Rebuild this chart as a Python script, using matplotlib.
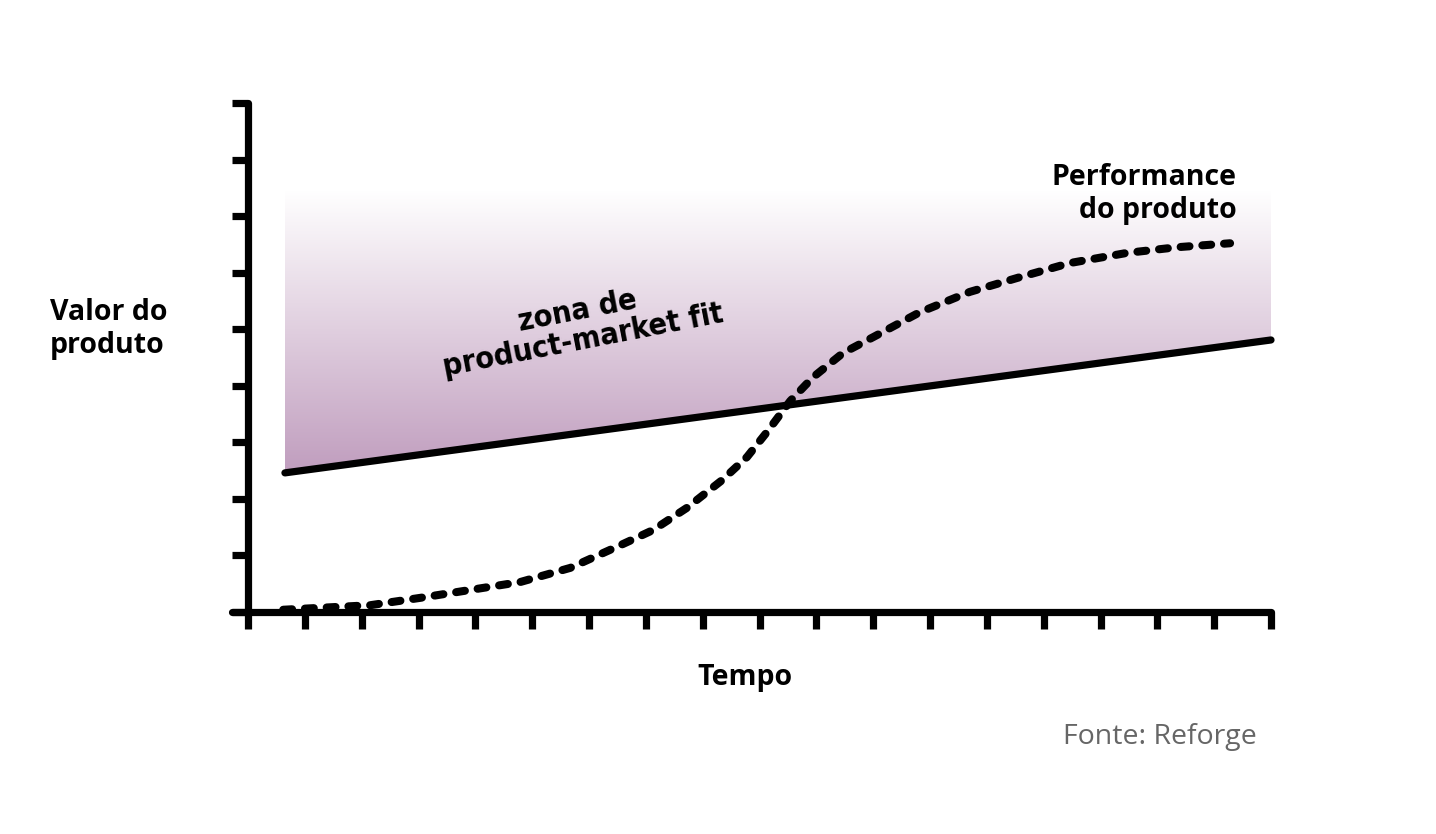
import numpy as np
import matplotlib
matplotlib.use("Agg")
from matplotlib import pyplot as plt
from matplotlib.colors import LinearSegmentedColormap

# data (x in time ticks, y in value ticks)
perf_x = [0.62, 2.15, 3.03, 3.91, 4.79, 5.67, 6.55, 7.13, 7.72, 8.34, 8.78,
          9.13, 9.54, 9.94, 10.47, 11.00, 11.82, 12.70, 13.58, 14.46, 15.47,
          16.35, 17.28]
perf_y = [0.04, 0.12, 0.25, 0.39, 0.53, 0.78, 1.18, 1.45, 1.84, 2.33, 2.74,
          3.18, 3.73, 4.15, 4.58, 4.86, 5.30, 5.66, 5.92, 6.17, 6.35,
          6.45, 6.52]
value_x = [0.65, 18.0]
value_y = [2.46, 4.81]
zone_top = 7.46
n_xticks = 19
n_yticks = 10

W, H = 1436, 834
fig = plt.figure(figsize=(W / 100, H / 100), dpi=100)
ax = fig.add_axes([248 / W, (H - 612) / H, 1023 / W, 509 / H])
ax.set_xlim(0, 18)
ax.set_ylim(0, 9)
for s in ax.spines.values():
    s.set_visible(False)

# gradient zone between the value line and the top
cmap = LinearSegmentedColormap.from_list("zone", ["#ffffff", "#c09dbe"])
grad = np.linspace(0, 1, 256).reshape(-1, 1)
img = ax.imshow(grad, cmap=cmap, aspect="auto", origin="upper",
                extent=[value_x[0], value_x[1], value_y[0], zone_top],
                zorder=1)
poly = ax.fill_between(value_x, value_y, zone_top, color="none", lw=0)
img.set_clip_path(poly.get_paths()[0], transform=ax.transData)

# axis lines and ticks
ax.plot([-0.28, 18], [0, 0], color="black", lw=5.2, solid_capstyle="round",
        clip_on=False, zorder=3)
ax.plot([0, 0], [0, 9], color="black", lw=5.2, solid_capstyle="round",
        clip_on=False, zorder=3)
ax.set_xticks(range(n_xticks))
ax.set_yticks(range(n_yticks))
ax.set_xticklabels([])
ax.set_yticklabels([])
ax.tick_params(axis="x", direction="out", length=12.5, width=5.2, color="black")
ax.tick_params(axis="y", direction="out", length=11.5, width=5.2, color="black")

# value line
ax.plot(value_x, value_y, color="black", lw=5.2, solid_capstyle="round",
        clip_on=False, zorder=4)

# product performance (dotted)
ax.plot(perf_x, perf_y, color="black", lw=5.8, dashes=(1.1, 1.6),
        dash_capstyle="round", clip_on=False, zorder=5)

bold = dict(family=["Open Sans", "DejaVu Sans"], fontweight="bold",
            fontsize=20.5, color="black")
fig.text(50 / W, 1 - 329 / H, "Valor do\nproduto", ha="left", va="center",
         linespacing=1.2, **bold)
fig.text(745 / W, 1 - 677 / H, "Tempo", ha="center", va="center", **bold)
fig.text(1237 / W, 1 - 194 / H, "Performance\ndo produto", ha="right",
         va="center", linespacing=1.15, **bold)
fig.text(1257 / W, 1 - 737 / H, "Fonte: Reforge", ha="right", va="center",
         family=["Open Sans", "DejaVu Sans"], fontsize=20.5, color="#666666")
fig.text(580 / W, 1 - 326 / H, "zona de\nproduct-market fit", ha="center",
         va="center", rotation=11, rotation_mode="anchor", linespacing=1.05,
         family=["DejaVu Sans"], fontstretch="condensed", fontweight="bold",
         fontsize=22, color="black")

fig.savefig("out.png", dpi=100)
